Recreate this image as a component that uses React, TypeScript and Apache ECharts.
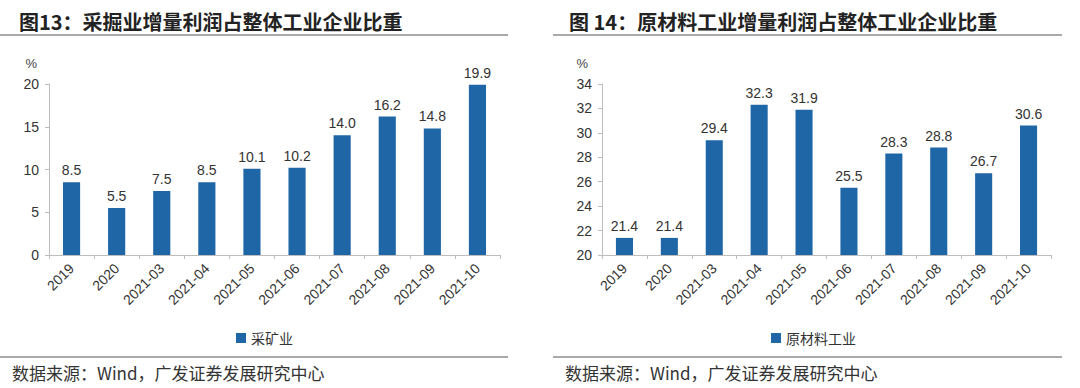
import React, { useEffect, useRef } from "react";
import * as echarts from "echarts";

const categories = ["2019", "2020", "2021-03", "2021-04", "2021-05", "2021-06", "2021-07", "2021-08", "2021-09", "2021-10"];
const miningValues = [8.5, 5.5, 7.5, 8.5, 10.1, 10.2, 14.0, 16.2, 14.8, 19.9];
const rawMaterialValues = [21.4, 21.4, 29.4, 32.3, 31.9, 25.5, 28.3, 28.8, 26.7, 30.6];
const leftTitle = "图13：采掘业增量利润占整体工业企业比重";
const rightTitle = "图 14：原材料工业增量利润占整体工业企业比重";
const sourceText = "数据来源：Wind，广发证券发展研究中心";
const miningName = "采矿业";
const rawName = "原材料工业";

const BAR = "#1f66a6";
const FONT = "'Liberation Sans', Arial, 'Noto Sans CJK SC', sans-serif";
const CJK = "'Noto Sans CJK SC', sans-serif";

export default function App() {
  const ref = useRef<HTMLDivElement>(null);
  useEffect(() => {
    if (!ref.current) return;
    const chart = echarts.init(ref.current, undefined, { renderer: "svg" });
    const xAxisBase = (gridIndex: number) => ({
      type: "category" as const,
      gridIndex,
      data: categories,
      boundaryGap: true,
      axisLine: { lineStyle: { color: "#bdbdbd", width: 1 } },
      axisTick: { show: true, length: 4, lineStyle: { color: "#bdbdbd" } },
      axisLabel: { rotate: 45, fontSize: 14, color: "#333", fontFamily: FONT, margin: 11 },
    });
    const yAxisBase = (gridIndex: number, min: number, max: number, interval: number, pad: number) => ({
      type: "value" as const,
      gridIndex,
      min,
      max,
      interval,
      name: "%",
      nameLocation: "end" as const,
      nameGap: 14,
      nameTextStyle: { fontSize: 13, color: "#444", fontFamily: FONT, align: "right" as const, padding: [0, pad, 0, 0] },
      axisLine: { show: true, lineStyle: { color: "#bdbdbd" } },
      axisTick: { show: true, length: 4, lineStyle: { color: "#bdbdbd" } },
      splitLine: { show: false },
      axisLabel: { fontSize: 14, color: "#333", fontFamily: FONT, margin: 10 },
    });
    const labelStyle = {
      show: true,
      position: "top" as const,
      distance: 5,
      fontSize: 14,
      color: "#333",
      fontFamily: FONT,
      formatter: (p: any) => Number(p.value).toFixed(1),
    };
    chart.setOption({
      animation: false,
      backgroundColor: "#ffffff",
      title: [
        { text: leftTitle, left: 14, top: 6, textStyle: { fontSize: 20, fontWeight: "bold", color: "#222", fontFamily: CJK } },
        { text: rightTitle, left: 564, top: 6, textStyle: { fontSize: 20, fontWeight: "bold", color: "#222", fontFamily: CJK } },
      ],
      grid: [
        { left: 49, right: 580, top: 84, bottom: 133, containLabel: false },
        { left: 602, right: 29, top: 84, bottom: 133, containLabel: false },
      ],
      xAxis: [xAxisBase(0), xAxisBase(1)],
      yAxis: [yAxisBase(0, 0, 20, 5, 12), yAxisBase(1, 20, 34, 2, 14)],
      legend: [
        {
          data: [miningName],
          left: 231,
          top: 326,
          itemWidth: 10,
          itemHeight: 10,
          icon: "rect",
          textStyle: { fontSize: 14, color: "#333", fontFamily: CJK },
        },
        {
          data: [rawName],
          left: 766,
          top: 326,
          itemWidth: 10,
          itemHeight: 10,
          icon: "rect",
          textStyle: { fontSize: 14, color: "#333", fontFamily: CJK },
        },
      ],
      series: [
        {
          name: miningName,
          type: "bar",
          xAxisIndex: 0,
          yAxisIndex: 0,
          data: miningValues,
          barWidth: "38%",
          itemStyle: { color: BAR },
          label: labelStyle,
        },
        {
          name: rawName,
          type: "bar",
          xAxisIndex: 1,
          yAxisIndex: 1,
          data: rawMaterialValues,
          barWidth: "38%",
          itemStyle: { color: BAR },
          label: labelStyle,
        },
      ],
      graphic: [
        { type: "line", shape: { x1: 0, y1: 35, x2: 508, y2: 35 }, style: { stroke: "#8c8c8c", lineWidth: 1.5 } },
        { type: "line", shape: { x1: 553, y1: 35, x2: 1062, y2: 35 }, style: { stroke: "#8c8c8c", lineWidth: 1.5 } },
        { type: "line", shape: { x1: 0, y1: 357, x2: 508, y2: 357 }, style: { stroke: "#8c8c8c", lineWidth: 1.5 } },
        { type: "line", shape: { x1: 553, y1: 357, x2: 1062, y2: 357 }, style: { stroke: "#8c8c8c", lineWidth: 1.5 } },
        { type: "text", left: 12, top: 364, style: { text: sourceText, fontSize: 17, fill: "#333", fontFamily: CJK } },
        { type: "text", left: 565, top: 364, style: { text: sourceText, fontSize: 17, fill: "#333", fontFamily: CJK } },
      ],
    });
    return () => chart.dispose();
  }, []);
  return <div ref={ref} style={{ position: "fixed", left: 0, top: 0, width: 1080, height: 388 }} />;
}
